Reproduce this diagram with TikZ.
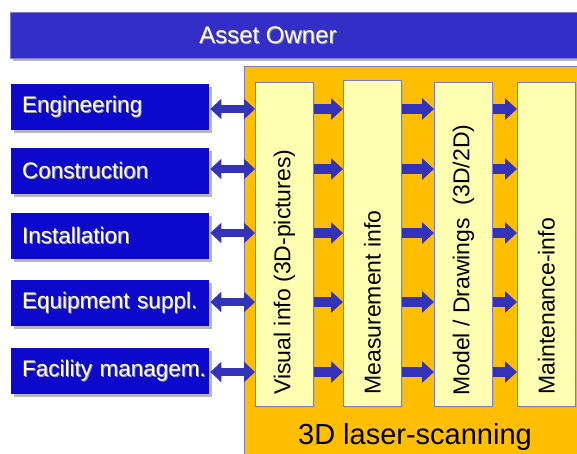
\documentclass[tikz,border=0pt]{standalone}
\usepackage{fontspec}
\setmainfont{Liberation Sans}
\usetikzlibrary{arrows.meta,shadows}

\definecolor{barblue}{RGB}{52,46,200}
\definecolor{boxblue}{RGB}{12,8,204}
\definecolor{arrowblue}{RGB}{52,50,182}
\definecolor{scanorange}{RGB}{255,190,0}
\definecolor{infoyellow}{RGB}{255,255,178}
\definecolor{edgeblue}{RGB}{125,122,205}

% white lettering with a soft grey shade behind it, kept on one line
\newcommand\softshade[1]{\mbox{\rlap{\kern0.9pt\raisebox{-0.9pt}{\textcolor{black!40}{#1}}}#1}}

\begin{document}
\begin{tikzpicture}[x=1pt,y=-1pt,
  greyshadow/.style={drop shadow={shadow xshift=2.5pt,shadow yshift=-3pt,fill=black!35,opacity=0.8}},
  ownerbar/.style={fill=barblue,draw=edgeblue,line width=0.6pt,anchor=north west,
    minimum width=600pt,minimum height=46pt,inner sep=0pt,greyshadow},
  partybox/.style={fill=boxblue,draw=none,anchor=north west,minimum height=46pt,
    text width=176pt,inner xsep=11pt,inner ysep=0pt,align=left,text=white,
    font=\fontsize{22.5}{26}\selectfont,greyshadow},
  infocol/.style={fill=infoyellow,draw=edgeblue,line width=0.8pt,anchor=north west,
    minimum width=58pt,inner sep=0pt,
    drop shadow={shadow xshift=1.5pt,shadow yshift=-1.5pt,fill=black!30,opacity=0.6}},
  coltext/.style={rotate=90,anchor=west,inner sep=0pt,text=black,
    font=\fontsize{23}{27}\selectfont},
  twoway/.style={draw=arrowblue,line width=8pt,
    {Triangle[length=11pt,width=20pt]}-{Triangle[length=11pt,width=20pt]}},
  oneway/.style={draw=arrowblue,line width=10pt,-{Triangle[length=12pt,width=21pt]}}
]
\clip (0,0) rectangle (577,453);
\fill[white] (0,0) rectangle (577,453);

% top bar
\node[ownerbar] (owner) at (10,12) {};
\node[text=white,font=\fontsize{24}{28}\selectfont] (ownertext) at (268,36) {\softshade{Asset Owner}};

% orange scanning area
\node[fill=scanorange,draw=edgeblue,line width=0.8pt,anchor=north west,
  minimum width=400pt,minimum height=420pt,inner sep=0pt] (scan) at (244,66) {};
\node[font=\fontsize{29}{34}\selectfont,text=black] (scantext) at (415,437) {3D laser-scanning};

% parties on the left
\node[partybox] (eng)  at (11,84)  {\softshade{Engineering}};
\node[partybox] (con)  at (11,148) {\softshade{Construction}};
\node[partybox] (ins)  at (11,213) {\softshade{Installation}};
\node[partybox] (equ)  at (11,280) {\softshade{Equipment suppl.}};
\node[partybox] (fac)  at (11,348) {\softshade{Facility managem.}};

% information columns
\node[infocol,minimum height=324pt] (vis) at (255,82) {};
\node[infocol,minimum height=326pt] (mea) at (343,80) {};
\node[infocol,minimum height=324pt] (mod) at (434,82) {};
\node[infocol,minimum height=324pt] (mai) at (517,82) {};

\node[coltext] (vist) at ([yshift=12pt]vis.south) {Visual info (3D-pictures)};
\node[coltext] (meat) at ([yshift=12pt]mea.south) {Measurement info};
\node[coltext] (modt) at ([yshift=11pt]mod.south) {Model / Drawings \ (3D/2D)};
\node[coltext] (mait) at ([yshift=12pt]mai.south) {Maintenance-info};

% rows of arrows
\coordinate (r1) at (0,109);
\coordinate (r2) at (0,169);
\coordinate (r3) at (0,233);
\coordinate (r4) at (0,302);
\coordinate (r5) at (0,372);

\draw[twoway] ([xshift=1pt]eng.east |- r1) -- (vis.west |- r1);
\draw[twoway] ([xshift=1pt]con.east |- r2) -- (vis.west |- r2);
\draw[twoway] ([xshift=1pt]ins.east |- r3) -- (vis.west |- r3);
\draw[twoway] ([xshift=1pt]equ.east |- r4) -- (vis.west |- r4);
\draw[twoway] ([xshift=1pt]fac.east |- r5) -- (vis.west |- r5);

\foreach \r in {r1,r2,r3,r4,r5}{
  \draw[oneway] (vis.east |- \r) -- (mea.west |- \r);
  \draw[oneway] (mea.east |- \r) -- (mod.west |- \r);
  \draw[oneway] (mod.east |- \r) -- (mai.west |- \r);
}
\end{tikzpicture}
\end{document}
